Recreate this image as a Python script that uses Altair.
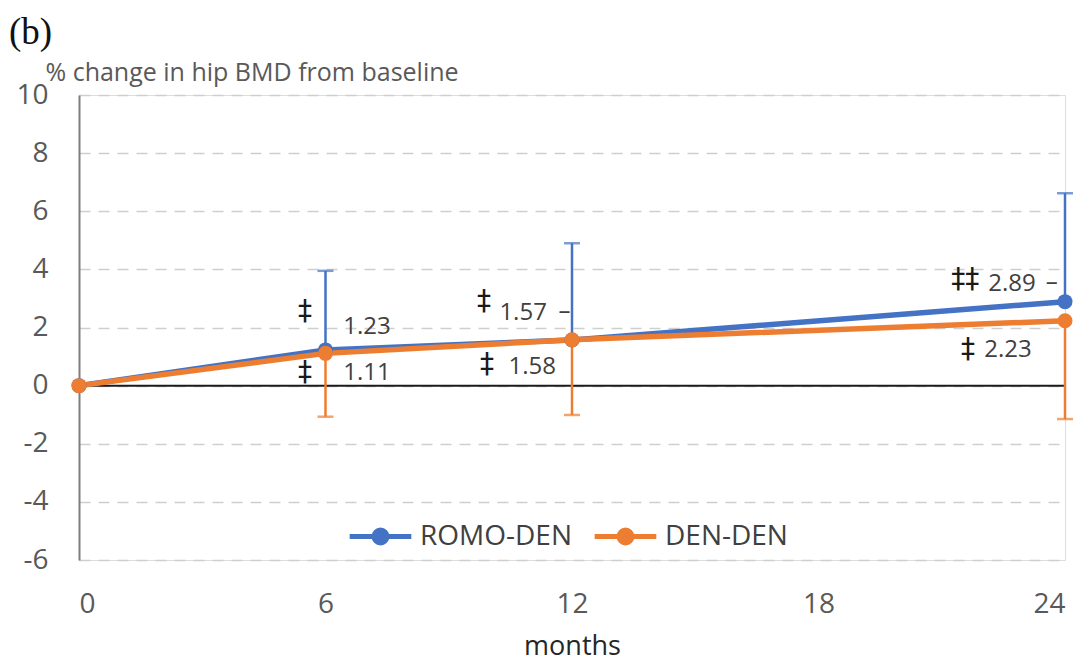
import altair as alt
import pandas as pd

# ---- data ----
months = [0, 6, 12, 24]
romo_den = [0, 1.23, 1.57, 2.89]
den_den = [0, 1.11, 1.58, 2.23]
romo_upper = [None, 3.95, 4.90, 6.62]   # upper error-bar ends
den_lower = [None, -1.07, -1.01, -1.15]  # lower error-bar ends
series = ["ROMO-DEN", "DEN-DEN"]
colors = ["#4472C4", "#ED7D31"]

num_text = ["1.23", "1.11", "1.57", "–", "1.58", "2.89", "–", "2.23"]
num_x = [7.01, 7.01, 10.81, 11.82, 11.03, 22.71, 23.68, 22.61]
num_y = [2.02, 0.43, 2.50, 2.55, 0.64, 3.50, 3.52, 1.23]

sig_text = ["‡", "‡", "‡", "‡", "‡‡", "‡"]
sig_x = [5.50, 5.50, 9.86, 9.93, 21.57, 21.64]
sig_y = [2.53, 0.43, 2.87, 0.71, 3.63, 1.23]

# ---- tables ----
rows = []
for m, a, b, ua, lb in zip(months, romo_den, den_den, romo_upper, den_lower):
    rows.append({"month": m, "value": a, "series": "ROMO-DEN", "end": ua})
    rows.append({"month": m, "value": b, "series": "DEN-DEN", "end": lb})
df = pd.DataFrame(rows)
err = df.dropna(subset=["end"])
nums = pd.DataFrame({"t": num_text, "x": num_x, "y": num_y})
sigs = pd.DataFrame({"t": sig_text, "x": sig_x, "y": sig_y})
zero = pd.DataFrame({"x": [0], "x2": [24], "y": [0]})

FONT = "Open Sans"
GRAY = "#595959"

xscale = alt.Scale(domain=[0, 24], nice=False, zero=False)
yscale = alt.Scale(domain=[-6, 10], nice=False)

legend = alt.Legend(
    orient="none", direction="horizontal", title=None,
    legendX=268, legendY=408,
    symbolType="M-1,0L1,0M-0.21,0A0.21,0.21,0,1,1,0.21,0A0.21,0.21,0,1,1,-0.21,0Z",
    symbolSize=3800, symbolStrokeWidth=5, symbolOpacity=1,
    labelFontSize=28, labelFont=FONT, labelColor="#404040",
    columnPadding=12, labelOffset=6, symbolOffset=0,
)
color = alt.Color("series:N", scale=alt.Scale(domain=series, range=colors), legend=legend, sort=series)

x_enc = alt.X("month:Q", scale=xscale, axis=alt.Axis(
    values=[0, 6, 12, 18, 24], grid=False, domain=False, ticks=False,
    labelPadding=30, labelFontSize=28, labelFont=FONT, labelColor=GRAY,
    title="months", titleFontSize=27, titleFont=FONT, titleColor="#262626",
    titleFontWeight="normal", titlePadding=15))
y_enc = alt.Y("value:Q", scale=yscale, axis=alt.Axis(
    values=list(range(-6, 11, 2)), grid=True, gridDash=[11, 8], gridColor="#CFCFCF",
    gridWidth=1.5, domain=True, domainColor="#7F7F7F", domainWidth=2, ticks=False,
    labelPadding=31, labelFontSize=28, labelFont=FONT, labelColor=GRAY,
    labelExpr="'' + datum.value",
    title="% change in hip BMD from baseline", titleAngle=0, titleAlign="left",
    titleBaseline="middle", titleX=-34, titleY=-23, titleFontSize=25, titleFont=FONT,
    titleColor=GRAY, titleFontWeight="normal"))

base = alt.Chart(df)

zero_rule = alt.Chart(zero).mark_rule(color="#1a1a1a", strokeWidth=2).encode(
    x=alt.X("x:Q", scale=xscale), x2="x2:Q", y=alt.Y("y:Q", scale=yscale))

err_rules = alt.Chart(err).mark_rule(strokeWidth=2.5).encode(
    x=alt.X("month:Q", scale=xscale), y=alt.Y("value:Q", scale=yscale), y2="end:Q", color=color)
err_caps = alt.Chart(err).mark_tick(orient="horizontal", size=16, thickness=2.5).encode(
    x=alt.X("month:Q", scale=xscale), y=alt.Y("end:Q", scale=yscale), color=color)

lines = base.mark_line(strokeWidth=5.5).encode(x=x_enc, y=y_enc, color=color, order="month:Q")
points = base.mark_circle(size=225, opacity=1).encode(x=x_enc, y=y_enc, color=color)

num_layer = alt.Chart(nums).mark_text(fontSize=24, font=FONT, color="#404040").encode(
    x=alt.X("x:Q", scale=xscale), y=alt.Y("y:Q", scale=yscale), text="t:N")
sig_layer = alt.Chart(sigs).mark_text(fontSize=28, font="DejaVu Sans", fontWeight="normal",
                                      color="#1a1a1a").encode(
    x=alt.X("x:Q", scale=xscale), y=alt.Y("y:Q", scale=yscale), text="t:N")

chart = alt.layer(zero_rule, err_rules, err_caps, lines, points, num_layer, sig_layer).properties(
    width=986, height=465,
    title=alt.TitleParams("(b)", anchor="start", frame="group", dx=-70, offset=8,
                          fontSize=37, font="Liberation Serif", fontWeight="normal", color="#111111"),
    autosize=alt.AutoSizeParams(type="none"),
    padding={"left": 71, "top": 87, "right": 12, "bottom": 104},
).configure_view(stroke=None).configure(background="white")

chart.save("out.html", embed_options={"renderer": "svg", "actions": False})
